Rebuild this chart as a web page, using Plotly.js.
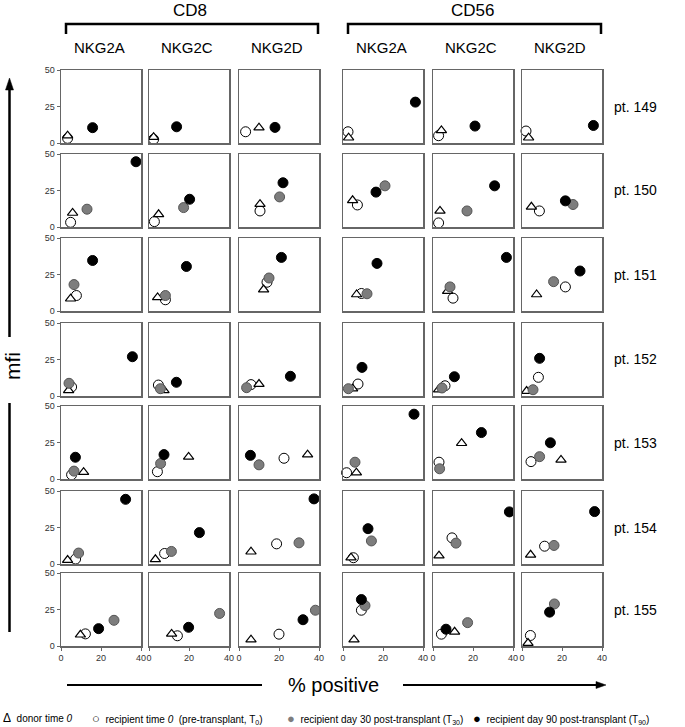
<!DOCTYPE html>
<html><head><meta charset="utf-8">
<script src="https://cdn.plot.ly/plotly-3.0.1.min.js"></script>
<style>html,body{margin:0;padding:0;background:#fff}#chart{width:685px;height:727px}</style>
</head><body><div id="chart"></div>
<script>
// ---------- data ----------
const patients = ['pt. 149','pt. 150','pt. 151','pt. 152','pt. 153','pt. 154','pt. 155'];
const populations = ['CD8','CD56'];
const receptors = ['NKG2A','NKG2C','NKG2D'];
const xTicks = [0,20,40];
const yTicks = [0,25,50];
const seriesNames = ['donor time <i>0</i>',
  'recipient time <i>0</i>  (pre-transplant, T<sub>0</sub>)',
  'recipient day 30 post-transplant (T<sub>30</sub>)',
  'recipient day 90 post-transplant (T<sub>90</sub>)'];

// rows = patients, columns = CD8 NKG2A, CD8 NKG2C, CD8 NKG2D, CD56 NKG2A, CD56 NKG2C, CD56 NKG2D
const donorX = [
 [3.3,2.3,10,2.8,4.2,3.3],
 [5.8,4.8,10.5,4.8,3.5,4.7],
 [4.8,4.3,12.3,6.8,7.3,7.3],
 [3.8,7.5,10,4.8,2.8,2.3],
 [11.3,19.8,34.3,6.7,14.3,19.5],
 [3.3,3.2,6,4,3,4.3],
 [9.7,11.3,6,5.5,10.8,3]
];
const donorY = [
 [5,4,10.5,3.6,8.6,3.6],
 [9.6,8.7,15.6,18.3,11,13.8],
 [8.4,9.3,14.7,11.3,13.6,11.3],
 [3.9,3.9,8.2,5,4.3,3.4],
 [4.7,15.1,16.7,4.3,24.5,13.1],
 [2.7,3.2,8.4,4.3,5.7,6.3],
 [7.7,8.3,4.3,4.3,9.7,2]
];
const t0X = [
 [3.3,2.3,3.3,2.5,2.8,2],
 [4.8,2.7,10.5,7.2,2.8,8.7],
 [7.7,8.2,14,9.2,10,21.7],
 [5.3,4.7,6,7.5,6,8.2],
 [5.3,4.2,22.5,1.8,3,4.5],
 [7.3,7.8,18.8,5.2,9.5,11.3],
 [12.2,14.2,20,9.2,4.2,4.2]
];
const t0Y = [
 [3.2,2.5,7.7,7.7,5,8.2],
 [3.2,3.7,11,15.1,2.8,11],
 [10.6,7.7,19.7,12,8.8,16.5],
 [6.2,7.5,7.8,8.2,7,12.8],
 [2.9,5,14.2,4.3,11.5,11.9],
 [3.4,7.2,13.8,4.3,17.9,12.2],
 [8.3,7,8.1,24.5,8.1,7.2]
];
const t30X = [
 [null,null,null,null,null,null],
 [13,17.3,20.3,21,17,25.5],
 [6.5,8.2,15,12,8.5,15.8],
 [4,5.7,3.8,2.7,4.5,5.5],
 [6.5,5.8,10,6,3.3,8.8],
 [8.8,11.2,30,14.2,11.5,16],
 [26.5,35.3,38.2,11,17.3,16.2]
];
const t30Y = [
 [null,null,null,null,null,null],
 [12.2,13.3,20.6,28.2,11,15.4],
 [18.1,10.6,22.6,11.8,16.5,20.1],
 [8.7,5,5.7,5,5.5,4.3],
 [5.4,10.6,9.7,11.5,7,15.3],
 [7.5,8.6,14.5,15.8,14.3,12.7],
 [17.6,22.3,24.5,27.7,16,28.8]
];
const t90X = [
 [15.8,13.8,18,36.2,21,35.7],
 [37.5,20.3,22,16.5,30.8,21.7],
 [15.8,18.7,21.2,17,36.7,29],
 [35.7,13.7,25.7,9.5,10.7,8.8],
 [7.2,7.5,5.7,35.5,24.2,14.2],
 [32.3,25.2,37.5,12.5,38.2,36.3],
 [18.8,19.8,32,9.2,6.5,13.8]
];
const t90Y = [
 [10.5,11.1,10.7,28,11.6,12],
 [44.7,19,30.3,23.9,28.2,17.9],
 [34.6,30.5,36.7,32.6,36.7,27.4],
 [26.9,9.4,13.5,19.6,13.2,25.8],
 [14.9,16.7,16.2,44.4,31.8,24.8],
 [44.3,21.5,44.6,24.2,35.7,35.9],
 [11.9,12.8,18,31.8,11.5,23.2]
];

// ---------- layout geometry ----------
const W = 685, H = 727;
const FONT = 'Liberation Sans, Arial, Helvetica, sans-serif';
const colLeft = [61,149,239,343,433,522], colW = 80;
const rowTop = [70,154,238,323,406,491,573], rowH = 73;
const px = v => v / W, py = v => 1 - v / H;

const styles = [
 {symbol:'triangle-up', size:9, color:'#ffffff', line:{color:'#000', width:1.2}},
 {symbol:'circle', size:10, color:'#ffffff', line:{color:'#000', width:1}},
 {symbol:'circle', size:10, color:'#7d7d7d', line:{color:'#555', width:1}},
 {symbol:'circle', size:10, color:'#000000', line:{color:'#000', width:1}}
];
const seriesData = [[donorX,donorY],[t0X,t0Y],[t30X,t30Y],[t90X,t90Y]];
const drawOrder = [1, 0, 2, 3]; // open circles beneath triangles

const traces = [];
const layout = {
  width: W, height: H, margin:{l:0,r:0,t:0,b:0},
  paper_bgcolor:'#fff', plot_bgcolor:'#fff', showlegend:false,
  font:{family:FONT, color:'#000'},
  annotations:[], shapes:[]
};

const nCols = populations.length * receptors.length;
for (let r = 0; r < patients.length; r++) {
  for (let c = 0; c < nCols; c++) {
    const k = r * nCols + c + 1;
    const xa = 'xaxis' + (k === 1 ? '' : k), ya = 'yaxis' + (k === 1 ? '' : k);
    const xr = 'x' + (k === 1 ? '' : k), yr = 'y' + (k === 1 ? '' : k);
    const common = {showline:true, mirror:true, linecolor:'#666', linewidth:1.5,
      showgrid:false, zeroline:false, fixedrange:true,
      ticklen:3, tickcolor:'#666', tickwidth:1,
      tickfont:{size:9, color:'#333', family:FONT}};
    layout[xa] = Object.assign({}, common, {
      domain:[px(colLeft[c]), px(colLeft[c] + colW)], anchor:yr, range:[0,40],
      tickmode:'array', tickvals:xTicks,
      showticklabels: r === patients.length - 1, ticks: r === patients.length - 1 ? 'outside' : ''
    });
    layout[ya] = Object.assign({}, common, {
      domain:[py(rowTop[r] + rowH), py(rowTop[r])], anchor:xr, range:[0,50],
      tickmode:'array', tickvals:yTicks,
      showticklabels: c === 0, ticks: c === 0 ? 'outside' : ''
    });
    drawOrder.forEach(s => {
      const sd = seriesData[s];
      traces.push({type:'scatter', mode:'markers', name:seriesNames[s],
        x:[sd[0][r][c]], y:[sd[1][r][c]], xaxis:xr, yaxis:yr,
        cliponaxis:false, marker:styles[s], hoverinfo:'x+y'});
    });
  }
  layout.annotations.push({xref:'paper', yref:'paper', x:px(612), y:py(rowTop[r] + rowH/2),
    xanchor:'left', yanchor:'middle', text:patients[r], showarrow:false,
    font:{size:14, family:FONT, color:'#000'}});
}

// column headers
populations.forEach((p, i) => {
  const l = colLeft[i*3], rgt = colLeft[i*3+2] + colW;
  layout.annotations.push({xref:'paper', yref:'paper', x:px((l + rgt)/2), y:py(10),
    xanchor:'center', yanchor:'middle', text:p, showarrow:false, font:{size:17, family:FONT}});
  layout.shapes.push({type:'path', xref:'paper', yref:'paper',
    path:`M ${px(l+5)} ${py(34)} L ${px(l+5)} ${py(24)} L ${px(rgt-1)} ${py(24)} L ${px(rgt-1)} ${py(34)}`,
    line:{color:'#000', width:2.5}});
  receptors.forEach((rc, j) => {
    const cl = colLeft[i*3+j];
    layout.annotations.push({xref:'paper', yref:'paper', x:px(cl + colW/2 - 2), y:py(48),
      xanchor:'center', yanchor:'middle', text:rc, showarrow:false, font:{size:15, family:FONT}});
  });
});

// axis titles with arrows
layout.annotations.push({xref:'paper', yref:'paper', x:px(12), y:py(366), textangle:-90,
  xanchor:'center', yanchor:'middle', text:'mfi', showarrow:false, font:{size:21, family:FONT}});
layout.annotations.push({xref:'paper', yref:'paper', x:px(333), y:py(685),
  xanchor:'center', yanchor:'middle', text:'% positive', showarrow:false, font:{size:20, family:FONT}});
layout.shapes.push(
  {type:'line', xref:'paper', yref:'paper', x0:px(9.5), x1:px(9.5), y0:py(337), y1:py(88), line:{color:'#000', width:2.5}},
  {type:'path', xref:'paper', yref:'paper', path:`M ${px(9.5)} ${py(78)} L ${px(5.5)} ${py(90)} L ${px(13.5)} ${py(90)} Z`, fillcolor:'#000', line:{color:'#000', width:0.5}},
  {type:'line', xref:'paper', yref:'paper', x0:px(9.5), x1:px(9.5), y0:py(403), y1:py(632), line:{color:'#000', width:2.5}},
  {type:'line', xref:'paper', yref:'paper', x0:px(67), x1:px(262), y0:py(685), y1:py(685), line:{color:'#000', width:2}},
  {type:'line', xref:'paper', yref:'paper', x0:px(403), x1:px(597), y0:py(685), y1:py(685), line:{color:'#000', width:2}},
  {type:'path', xref:'paper', yref:'paper', path:`M ${px(606)} ${py(685)} L ${px(596)} ${py(681.5)} L ${px(596)} ${py(688.5)} Z`, fillcolor:'#000', line:{color:'#000', width:0.5}}
);

// legend (text row at bottom)
const legendItems = [
  {x:1, sym:'Δ', col:'#000', fs:12},
  {x:90, sym:'○', col:'#000', fs:13},
  {x:285, sym:'●', col:'#7d7d7d', fs:13},
  {x:471, sym:'●', col:'#000', fs:13}
];
legendItems.forEach((it, i) => {
  layout.annotations.push({xref:'paper', yref:'paper', x:px(it.x), y:py(718),
    xanchor:'left', yanchor:'middle', showarrow:false,
    text:`<span style="color:${it.col};font-size:${it.fs}px">${it.sym}</span>  ${seriesNames[i]}`,
    font:{size:10, family:FONT, color:'#000'}});
});

Plotly.newPlot('chart', traces, layout, {displayModeBar:false, staticPlot:true});
</script>
</body></html>
